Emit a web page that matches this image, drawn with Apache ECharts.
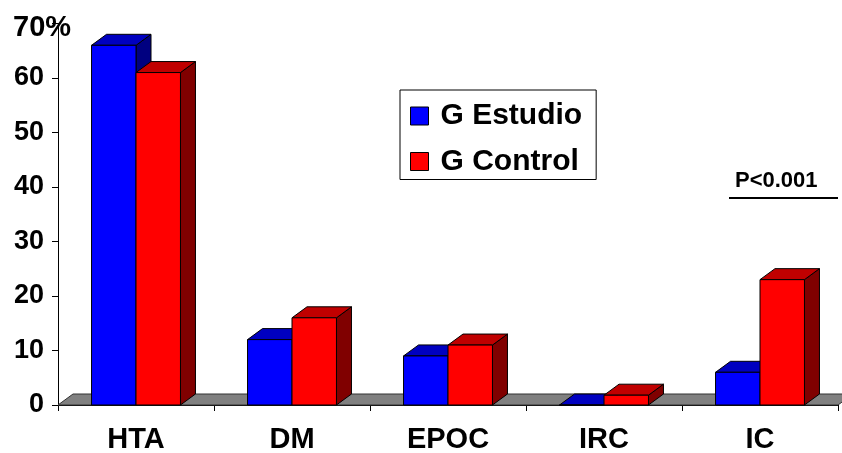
<!DOCTYPE html>
<html>
<head>
<meta charset="utf-8">
<script src="https://cdn.jsdelivr.net/npm/echarts@6/dist/echarts.min.js"></script>
<style>
html,body{margin:0;padding:0;background:#fff;}
#main{width:842px;height:453px;}
</style>
</head>
<body>
<div id="main"></div>
<script>
// ---- data ----
const categories = ['HTA', 'DM', 'EPOC', 'IRC', 'IC'];
const seriesNames = ['G Estudio', 'G Control'];
const estudio = [66, 12, 9, 0, 6];
const control = [61, 16, 11, 1.8, 23];
const yMin = 0, yMax = 70, yStep = 10;
const topTickLabel = '70%';
const annotationText = 'P<0.001';

// ---- styles ----
const FONT = "'Liberation Sans', Arial, sans-serif";
const DX = 15, DY = 11;
const palettes = {
  blue: { front: '#0000FF', top: '#0000C0', side: '#000080' },
  red: { front: '#FF0000', top: '#C00000', side: '#800000' }
};

function bar3D(side, pal) {
  return function (params, api) {
    const cat = api.value(0), v = api.value(1);
    const c = api.coord([cat, v]);
    const b = api.coord([cat, 0]);
    const bw = api.size([1, 0])[0] * 0.285;
    const x0 = side < 0 ? c[0] - bw : c[0];
    const x1 = x0 + bw;
    const yt = c[1], yb = b[1];
    const stroke = { stroke: '#000', lineWidth: 1 };
    return {
      type: 'group',
      children: [
        { type: 'polygon', shape: { points: [[x1, yt], [x1 + DX, yt - DY], [x1 + DX, yb - DY], [x1, yb]] },
          style: Object.assign({ fill: pal.side }, stroke) },
        { type: 'polygon', shape: { points: [[x0, yt], [x1, yt], [x1 + DX, yt - DY], [x0 + DX, yt - DY]] },
          style: Object.assign({ fill: pal.top }, stroke) },
        { type: 'rect', shape: { x: x0, y: yt, width: bw, height: yb - yt },
          style: Object.assign({ fill: pal.front }, stroke) }
      ]
    };
  };
}

function floorItem(params, api) {
  const cs = params.coordSys;
  const yb = cs.y + cs.height;
  const x0 = cs.x, x1 = cs.x + cs.width;
  return {
    type: 'polygon',
    shape: { points: [[x0, yb], [x1, yb], [x1 + DX, yb - DY], [x0 + DX, yb - DY]] },
    style: { fill: '#808080', stroke: '#333', lineWidth: 1 }
  };
}

const chart = echarts.init(document.getElementById('main'), null, { renderer: 'canvas' });

const option = {
  backgroundColor: '#fff',
  animation: false,
  grid: { left: 58, right: 4, top: 23.5, bottom: 48, containLabel: false, outerBoundsMode: 'none' },
  legend: {
    data: seriesNames,
    orient: 'vertical',
    left: 400, top: 90,
    padding: [11, 14, 3, 10],
    itemGap: 15.5,
    itemWidth: 18, itemHeight: 18,
    icon: 'rect',
    borderColor: '#000', borderWidth: 1,
    itemStyle: { borderColor: '#000', borderWidth: 1 },
    textStyle: { fontFamily: FONT, fontWeight: 'bold', fontSize: 30, color: '#000', lineHeight: 30, padding: [0, 0, 0, 7] }
  },
  xAxis: {
    type: 'category',
    data: categories,
    boundaryGap: true,
    axisLine: { lineStyle: { color: '#000', width: 1 } },
    axisTick: { show: true, length: 6, lineStyle: { color: '#000' } },
    axisLabel: { fontFamily: FONT, fontWeight: 'bold', fontSize: 29, color: '#000', margin: 20 },
    splitLine: { show: false }
  },
  yAxis: {
    type: 'value',
    min: yMin, max: yMax, interval: yStep,
    axisLine: { show: true, lineStyle: { color: '#000', width: 1 } },
    axisTick: { show: true, length: 6, lineStyle: { color: '#000' } },
    axisLabel: {
      fontFamily: FONT, fontWeight: 'bold', fontSize: 27, color: '#000', margin: 14,
      formatter: function (v) { return v === yMax ? '' : '{n|' + v + '}'; },
      rich: { n: { fontFamily: FONT, fontWeight: 'bold', fontSize: 27, color: '#000' } }
    },
    splitLine: { show: false }
  },
  series: [
    { type: 'custom', name: 'floor', renderItem: floorItem, data: [[0, 0]], silent: true, z: 1 },
    { type: 'custom', name: seriesNames[0], renderItem: bar3D(-1, palettes.blue),
      itemStyle: { color: palettes.blue.front }, z: 2,
      data: categories.map((c, i) => [i, estudio[i]]) },
    { type: 'custom', name: seriesNames[1], renderItem: bar3D(1, palettes.red),
      itemStyle: { color: palettes.red.front }, z: 3,
      data: categories.map((c, i) => [i, control[i]]) }
  ]
};
chart.setOption(option);

const yTop = chart.convertToPixel({ yAxisIndex: 0 }, yMax);
chart.setOption({
  graphic: [
    { type: 'text', left: 13, top: yTop - 10, z: 10,
      style: { text: topTickLabel, font: "bold 29px 'Liberation Sans', Arial, sans-serif", fill: '#000' } },
    { type: 'text', left: 735, top: 170, z: 10,
      style: { text: annotationText, font: "bold 22px 'Liberation Sans', Arial, sans-serif", fill: '#000' } },
    { type: 'line', shape: { x1: 729, y1: 198, x2: 838, y2: 198 }, z: 10,
      style: { stroke: '#000', lineWidth: 2 } }
  ]
});
</script>
</body>
</html>
